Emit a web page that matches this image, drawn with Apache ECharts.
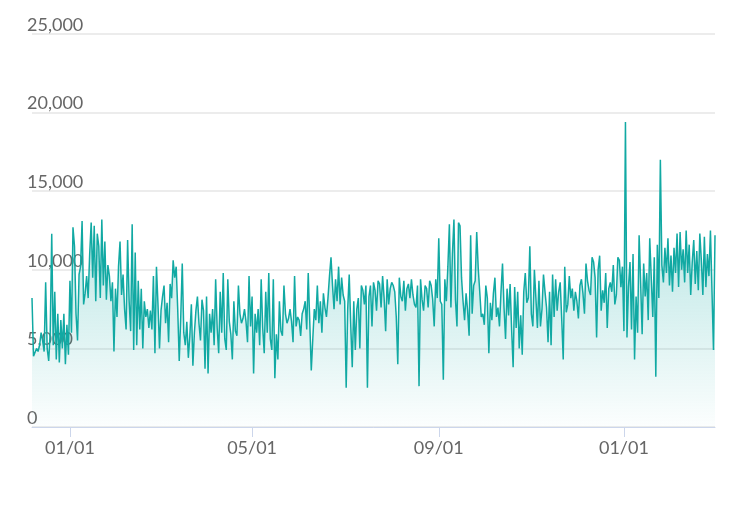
<!DOCTYPE html>
<html>
<head>
<meta charset="utf-8">
<script src="https://cdn.jsdelivr.net/npm/echarts@6/dist/echarts.min.js"></script>
<style>html,body{margin:0;padding:0;background:#fff}</style>
</head>
<body>
<div id="chart" style="width:742px;height:506px;"></div>
<script>
    // daily values, one array per month (Dec 7 .. Mar 2)
    var dec0 = [8200,4500,4600,5000,4800,5200,6000,5500,4800,9200,5000,4200,6000,12300,5200,8600,4300,7200,4100,6800,5000,7200,4000,6500,4600];
    var jan1 = [9300,6000,12700,11500,7200,5500,9700,10200,13100,7800,8500,9600,8200,11000,13000,9500,12800,8000,12300,11500,8200,13200,9000,11800,8100,10300,9600,8000,9200,4800,8800];
    var feb1 = [7000,10200,11800,8400,9700,7500,6200,11900,8000,6100,12900,4900,11100,5200,9300,6200,8800,5000,8000,7000,7500,6300,7400,6200,9600,4700,10200,7800];
    var mar1 = [5000,7400,8300,9000,6600,7900,5400,9100,8200,10600,9500,10200,7500,4200,7000,10400,6000,5200,6700,4400,5800,7800,3900,6000,7400,8300,6600,5500,8100,7400,3700];
    var apr1 = [8300,3400,7200,6000,7500,5200,9400,6300,4700,8600,6000,9800,5600,4900,9400,6700,5900,4300,8000,6100,5800,9000,7200,6600,6900,7500,6700,5400,9600,6400];
    var may1 = [8300,3400,7200,6000,7500,5200,9400,6300,4700,8600,6000,9800,5600,4900,9400,3100,5900,4300,8000,6100,5800,9000,7200,6600,6900,7500,6700,5400,9600,6400,7000];
    var jun1 = [6800,5800,7200,7500,8000,6200,9800,9700,3600,5600,7500,6800,9000,6600,8000,6000,8500,7600,7000,8200,9600,10800,9000,7500,9400,8000,10200,7800,9500,8400];
    var jul1 = [8000,2500,7500,9700,6500,3800,8000,4900,7500,8200,5000,9000,8700,7800,9000,2500,8300,9000,6400,9200,8700,7400,9300,9100,7600,9600,8200,6100,9400,7800,8800];
    var aug1 = [9200,9000,8600,7000,4000,9500,8300,8000,9300,7400,8800,9100,8200,9400,8400,7800,7600,9000,2600,9400,8100,7400,9000,8800,7600,9300,9000,8100,6400,9400,8200];
    var sep1 = [12000,8000,7800,3000,9400,8000,10200,12900,7600,11000,13200,8100,6400,13000,12800,9500,8000,6800,8500,7400,5800,12200,7200,9000,9300,12400,10100,8600,7000,7200];
    var oct1 = [6500,9000,8200,4700,7900,6800,8500,9500,7000,7600,6400,8600,10400,7600,5600,8800,7100,9100,6200,3800,8900,6300,8600,5000,7100,4600,8600,9800,7900,8200,11500];
    var nov1 = [7200,6400,10000,8200,6300,9300,6400,7500,9700,8600,7600,5400,8600,5200,9700,7000,9400,7400,8600,9200,6900,4300,10200,7300,7800,9600,8200,8800,7400,8600];
    var dec1 = [8000,6900,9000,9400,8500,7200,10400,9300,8700,8400,10800,10500,9500,5700,10000,10900,7400,8700,7900,9800,6300,8800,9200,8600,10300,7800,8400,10800,10600,8900,10200];
    var jan2 = [6100,19400,5700,8900,10500,6200,11000,4300,8300,6000,12200,9200,5900,10400,8300,9800,6800,12000,9500,7000,10800,3200,11600,8200,17000,10300,9200,11400,9800,12000,9000];
    var feb2 = [10900,8600,11400,9800,12300,8900,12400,10000,11300,9200,12500,9800,11600,8400,10500,11900,9100,11200,8700,12300,10600,8400,12100,8900,11000,9600,12500,12600];
    var mar2 = [4900,12200];

    var values = [].concat(dec0,jan1,feb1,mar1,apr1,may1,jun1,jul1,aug1,sep1,oct1,nov1,dec1,jan2,feb2,mar2);
    var tickMonths = ['01','05','09'];

    var dates = [];
    var d = new Date(2017, 11, 7);
    for (var i = 0; i < values.length; i++) {
        var m = ('0' + (d.getMonth() + 1)).slice(-2), day = ('0' + d.getDate()).slice(-2);
        dates.push(m + '/' + day);
        d.setDate(d.getDate() + 1);
    }
    function isTick(idx, val) {
        return val.slice(3) === '01' && tickMonths.indexOf(val.slice(0, 2)) >= 0;
    }

    var chart = echarts.init(document.getElementById('chart'));
    chart.setOption({
        animation: false,
        grid: {left: 32, right: 27, top: 34, bottom: 79},
        xAxis: {
            type: 'category',
            boundaryGap: false,
            data: dates,
            axisLine: {lineStyle: {color: '#ccd6eb'}},
            axisTick: {interval: isTick, length: 10, lineStyle: {color: '#ccd6eb'}},
            axisLabel: {interval: isTick, fontSize: 18, color: '#666', margin: 12, fontFamily: 'Lato'},
            splitLine: {show: false}
        },
        yAxis: {
            type: 'value',
            min: 0, max: 25000, interval: 5000,
            axisLine: {show: false},
            axisTick: {show: false},
            axisLabel: {
                inside: true, margin: -5, verticalAlign: 'bottom', fontSize: 18, color: '#666', fontFamily: 'Lato',
                formatter: function (v) { return v.toLocaleString('en-US'); }
            },
            splitLine: {lineStyle: {color: '#e6e6e6', width: 1.5}}
        },
        series: [{
            type: 'line',
            data: values,
            symbol: 'none',
            lineStyle: {color: '#11a9a3', width: 1.5},
            areaStyle: {
                color: new echarts.graphic.LinearGradient(0, 0, 0, 1, [
                    {offset: 0, color: 'rgba(17,169,163,0.6)'},
                    {offset: 1, color: 'rgba(17,169,163,0.02)'}
                ])
            }
        }]
    });
</script>
</body>
</html>
